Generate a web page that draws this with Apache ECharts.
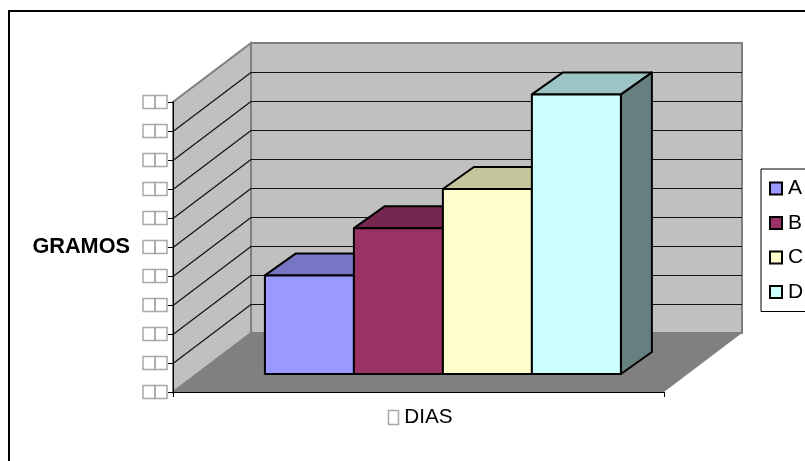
<!DOCTYPE html>
<html>
<head>
<meta charset="utf-8">
<style>html,body{margin:0;padding:0;background:#fff;overflow:hidden}#c{width:805px;height:461px}</style>
<script src="https://cdn.jsdelivr.net/npm/echarts@6/dist/echarts.min.js"></script>
</head>
<body>
<div id="c"></div>
<script>
const categories = ['DIAS'];
const seriesNames = ['A', 'B', 'C', 'D'];
const seriesValues = [3.4, 5.03, 6.38, 9.64];
const seriesColors = ['#9999ff', '#993366', '#ffffcc', '#ccffff'];
const tickValues = [0, 1, 2, 3, 4, 5, 6, 7, 8, 9, 10];
const tickGlyph = '\u25A1';
const xLabelPrefix = '\u25A1';

const FONT = '"Liberation Sans", Arial, sans-serif';
const WALL = [78, -59];      // depth of the floor
const BAR_START = [24.4, -18]; // where the bars stand on the floor
const BAR_DEPTH = [31, -22]; // depth of a bar
const BARS_SHARE = 0.725;    // share of the category band taken by the bars

function shade(hex, k) {
  const n = parseInt(hex.slice(1), 16);
  const f = s => Math.round(((n >> s) & 255) * k);
  return 'rgb(' + f(16) + ',' + f(8) + ',' + f(0) + ')';
}

function renderWalls(params, api) {
  const v = api.value(0);
  const c = api.coord([0, v]);
  const half = api.size([1, 0])[0] / 2;
  const l = c[0] - half, r = c[0] + half, y = Math.round(c[1]) + 0.5;
  const lineStyle = { stroke: '#111', lineWidth: 1.2, fill: null };
  const children = [];
  if (params.dataIndex === 0) {
    const t = api.coord([0, tickValues[tickValues.length - 1]]);
    const edge = { stroke: '#808080', lineWidth: 2 };
    children.push(
      { type: 'polygon', shape: { points: [[l + WALL[0], t[1] + WALL[1]], [r + WALL[0], t[1] + WALL[1]], [r + WALL[0], c[1] + WALL[1]], [l + WALL[0], c[1] + WALL[1]]] }, style: Object.assign({ fill: '#c0c0c0' }, edge) },
      { type: 'polygon', shape: { points: [[l, c[1]], [l, t[1]], [l + WALL[0], t[1] + WALL[1]], [l + WALL[0], c[1] + WALL[1]]] }, style: Object.assign({ fill: '#c0c0c0' }, edge) },
      { type: 'polygon', shape: { points: [[l, c[1]], [r, c[1]], [r + WALL[0], c[1] + WALL[1]], [l + WALL[0], c[1] + WALL[1]]] }, style: { fill: '#808080', stroke: null } }
    );
  } else if (v < tickValues[tickValues.length - 1]) {
    children.push(
      { type: 'line', shape: { x1: l, y1: y, x2: l + WALL[0], y2: y + WALL[1] }, style: lineStyle },
      { type: 'line', shape: { x1: l + WALL[0], y1: y + WALL[1], x2: r + WALL[0], y2: y + WALL[1] }, style: lineStyle }
    );
  }
  return { type: 'group', children };
}

function renderBar(index) {
  return function (params, api) {
    const base = api.coord([0, 0]);
    const top = api.coord([0, api.value(0)]);
    const w = api.size([1, 0])[0] * BARS_SHARE / seriesNames.length;
    const x0 = base[0] + BAR_START[0] + (index - seriesNames.length / 2) * w;
    const x1 = x0 + w;
    const yb = base[1] + BAR_START[1];
    const yt = top[1] + BAR_START[1];
    const dx = BAR_DEPTH[0], dy = BAR_DEPTH[1];
    const col = seriesColors[index];
    const edge = { stroke: '#000', lineWidth: 2, lineJoin: 'round' };
    return {
      type: 'group',
      children: [
        { type: 'polygon', shape: { points: [[x1, yb], [x1, yt], [x1 + dx, yt + dy], [x1 + dx, yb + dy]] }, style: Object.assign({ fill: shade(col, 0.5) }, edge) },
        { type: 'polygon', shape: { points: [[x0, yt], [x1, yt], [x1 + dx, yt + dy], [x0 + dx, yt + dy]] }, style: Object.assign({ fill: shade(col, 0.77) }, edge) },
        { type: 'polygon', shape: { points: [[x0, yb], [x1, yb], [x1, yt], [x0, yt]] }, style: Object.assign({ fill: col }, edge) }
      ]
    };
  };
}

const boxStyle = {
  width: 12, height: 13, lineHeight: 13, fontSize: 10, color: 'transparent',
  borderColor: '#a8a8a8', borderWidth: 1.5
};

const chart = echarts.init(document.getElementById('c'), null, { renderer: 'canvas' });
chart.setOption({
  animation: false,
  backgroundColor: '#fff',
  textStyle: { fontFamily: FONT },
  graphic: [{
    type: 'rect', z: -10, silent: true,
    shape: { x: 9, y: 11, width: 900, height: 600 },
    style: { fill: '#fff', stroke: '#000', lineWidth: 2 }
  }],
  grid: { left: 173, top: 102, width: 491, height: 290, containLabel: false },
  xAxis: {
    type: 'category', data: categories, boundaryGap: true,
    axisLine: { show: true, lineStyle: { color: '#000', width: 1 } },
    axisTick: { show: true, length: 5, lineStyle: { color: '#000' } },
    axisLabel: {
      margin: 15, color: '#000', fontSize: 20.7, fontFamily: FONT, padding: [0, 0, 0, 4],
      formatter: v => '{b|' + xLabelPrefix + '} ' + v,
      rich: { b: Object.assign({}, boxStyle, { width: 10, height: 14, lineHeight: 14 }) }
    }
  },
  yAxis: {
    type: 'value', min: 0, max: 10, interval: 1,
    name: 'GRAMOS', nameLocation: 'middle', nameRotate: 0, nameGap: 43,
    nameTextStyle: { fontFamily: FONT, fontSize: 21.7, fontWeight: 'bold', color: '#000' },
    axisLine: { show: true, lineStyle: { color: '#000', width: 1 } },
    axisTick: { show: true, length: 5, lineStyle: { color: '#000' } },
    splitLine: { show: false },
    axisLabel: {
      margin: 6,
      formatter: () => '{b|' + tickGlyph + '}{b|' + tickGlyph + '}',
      rich: { b: boxStyle }
    }
  },
  legend: {
    data: seriesNames, orient: 'vertical', left: 761, top: 169,
    padding: [9, 8, 9, 8], itemGap: 13.5, itemWidth: 12, itemHeight: 12,
    icon: 'rect', backgroundColor: '#fff', borderColor: '#000', borderWidth: 1,
    selectedMode: false,
    textStyle: { fontFamily: FONT, fontSize: 21, color: '#000', padding: [0, 0, 0, 1] }
  },
  tooltip: { show: false },
  series: [{
    type: 'custom', name: 'walls', coordinateSystem: 'cartesian2d', z: -1, silent: true, clip: false,
    renderItem: renderWalls, encode: { y: 0 }, data: tickValues.map(v => [v])
  }].concat(seriesNames.map((name, i) => ({
    type: 'custom', name, coordinateSystem: 'cartesian2d', z: 2 + i, silent: true, clip: false,
    renderItem: renderBar(i), encode: { y: 0 },
    itemStyle: { color: seriesColors[i], borderColor: '#000', borderWidth: 1.5 },
    data: [[seriesValues[i]]]
  })))
});
</script>
</body>
</html>
